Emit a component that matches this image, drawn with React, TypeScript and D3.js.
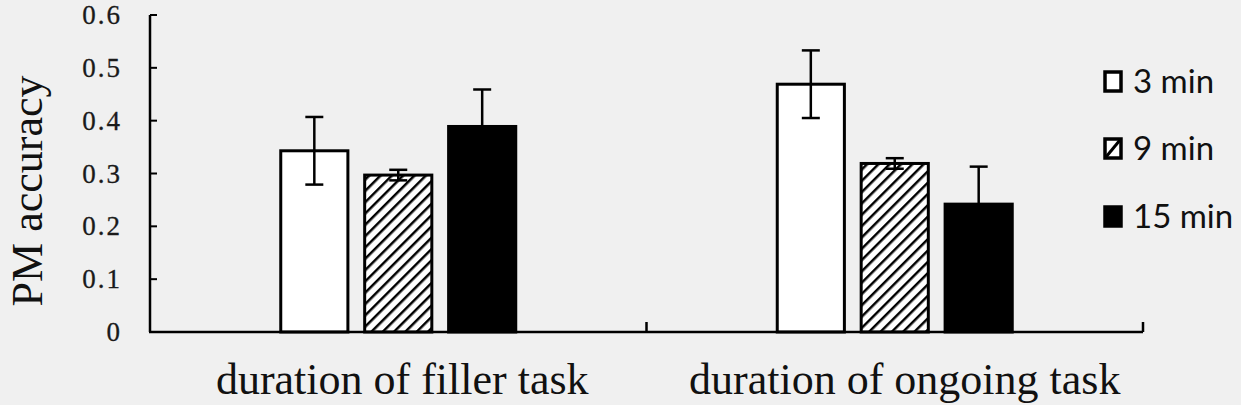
import React from "react";
import * as d3 from "d3";

const categories = ["duration of filler task", "duration of ongoing task"];
const seriesNames = ["3 min", "9 min", "15 min"];
const values3 = [0.343, 0.469];
const values9 = [0.297, 0.319];
const values15 = [0.389, 0.242];
const err3 = [0.064, 0.064];
const err9 = [0.01, 0.01];
const err15 = [0.07, 0.071];
const yTicks = [0, 0.1, 0.2, 0.3, 0.4, 0.5, 0.6];

const W = 1241;
const H = 405;

export default function App() {
  const x0 = d3.scaleBand<string>().domain(categories).range([150, 1143]).padding(0);
  const x1 = d3.scaleBand<string>().domain(seriesNames).range([0, 235]).paddingInner(0.2);
  const y = d3.scaleLinear().domain([0, 0.6]).range([332, 15]);
  const groupW = 235;
  const series = [
    { name: seriesNames[0], vals: values3, errs: err3, fill: "#ffffff" },
    { name: seriesNames[1], vals: values9, errs: err9, fill: "url(#hatch)" },
    { name: seriesNames[2], vals: values15, errs: err15, fill: "#000000" },
  ];
  const serif = "'Liberation Serif', 'DejaVu Serif', serif";
  const sans = "Lato, 'Open Sans', sans-serif";
  const legendBase = [93, 160, 228];
  const labelShift = [4, 10];

  return (
    <svg width={W} height={H} style={{ position: "fixed", left: 0, top: 0 }}>
      <defs>
        <pattern id="hatch" patternUnits="userSpaceOnUse" width={8} height={8} patternTransform="rotate(45)">
          <rect width={8} height={8} fill="#fff" />
          <line x1={0} y1={0} x2={0} y2={8} stroke="#000" strokeWidth={5} />
        </pattern>
      </defs>
      <rect width={W} height={H} fill="#f0f0f0" />
      {categories.map((c, ci) => {
        const gx = (x0(c) as number) + x0.bandwidth() / 2 - groupW / 2;
        return (
          <g key={c}>
            {series.map((s) => {
              const bx = gx + (x1(s.name) as number);
              const bw = x1.bandwidth();
              const v = s.vals[ci];
              const e = s.errs[ci];
              const cx = bx + bw / 2;
              return (
                <g key={s.name}>
                  <rect x={bx} y={y(v)} width={bw} height={y(0) - y(v)} fill={s.fill} stroke="#000" strokeWidth={3} />
                  <line x1={cx} x2={cx} y1={y(v - e)} y2={y(v + e)} stroke="#000" strokeWidth={2.5} />
                  <line x1={cx - 9} x2={cx + 9} y1={y(v + e)} y2={y(v + e)} stroke="#000" strokeWidth={2.5} />
                  <line x1={cx - 9} x2={cx + 9} y1={y(v - e)} y2={y(v - e)} stroke="#000" strokeWidth={2.5} />
                </g>
              );
            })}
            <text
              x={(x0(c) as number) + x0.bandwidth() / 2 + labelShift[ci]}
              y={394}
              textAnchor="middle"
              fontFamily={serif}
              fontSize={44}
              fill="#111"
            >
              {c}
            </text>
          </g>
        );
      })}
      {/* axes */}
      <line x1={150} x2={150} y1={y(0.6)} y2={y(0)} stroke="#000" strokeWidth={2.5} />
      <line x1={149} x2={1143} y1={y(0)} y2={y(0)} stroke="#000" strokeWidth={2.5} />
      {yTicks.map((t) => (
        <g key={t}>
          <line x1={150} x2={157} y1={y(t)} y2={y(t)} stroke="#000" strokeWidth={2} />
          <text
            x={122}
            y={y(t) + 9}
            textAnchor="end"
            fontFamily={serif}
            fontSize={27}
            letterSpacing={2}
            fill="#1a1a1a"
            stroke="#1a1a1a"
            strokeWidth={0.3}
          >
            {t === 0 ? "0" : t.toFixed(1)}
          </text>
        </g>
      ))}
      {[x0(categories[1]) as number, 1143].map((tx, i) => (
        <line key={i} x1={tx} x2={tx} y1={y(0)} y2={y(0) - 10} stroke="#000" strokeWidth={2.5} />
      ))}
      <text
        transform={`translate(42,191) rotate(-90)`}
        textAnchor="middle"
        fontFamily={serif}
        fontSize={44}
        fill="#111"
      >
        PM accuracy
      </text>
      {/* legend */}
      {series.map((s, i) => (
        <g key={s.name}>
          <rect
            x={1105}
            y={legendBase[i] - 21}
            width={16}
            height={19}
            fill={s.fill === "url(#hatch)" ? "#fff" : s.fill}
            stroke="#000"
            strokeWidth={3.5}
          />
          {s.fill === "url(#hatch)" && (
            <line x1={1106} x2={1120} y1={legendBase[i] - 3} y2={legendBase[i] - 20} stroke="#000" strokeWidth={3} />
          )}
          <text x={1133} y={legendBase[i]} fontFamily={sans} fontSize={33} fill="#111">
            {s.name}
          </text>
        </g>
      ))}
    </svg>
  );
}
